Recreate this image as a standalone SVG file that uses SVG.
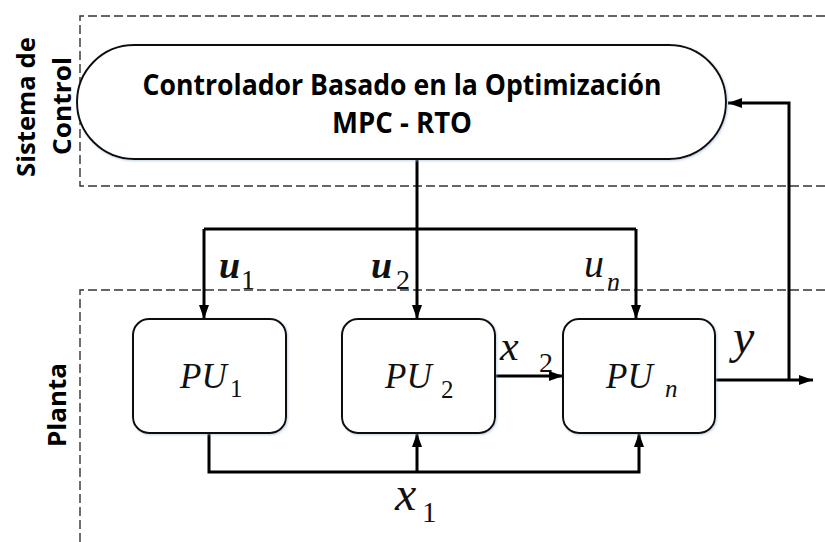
<svg xmlns="http://www.w3.org/2000/svg" width="825" height="542" viewBox="0 0 825 542">
  <defs>
    <marker id="arrow" viewBox="0 0 14 10" refX="14" refY="5" markerWidth="14" markerHeight="10" markerUnits="userSpaceOnUse" orient="auto">
      <path d="M0,0 L14,5 L0,10 Z" fill="#000"/>
    </marker>
    <filter id="glow" x="-10%" y="-10%" width="120%" height="120%">
      <feDropShadow dx="1" dy="1" stdDeviation="1.2" flood-color="#9fb6d6" flood-opacity="0.6"/>
    </filter>
  </defs>
  <style>
    .zone { fill: none; stroke: #333; stroke-width: 1.4; stroke-dasharray: 9 4; }
    .box { fill: #fff; stroke: #111; stroke-width: 2; filter: url(#glow); }
    .wire { fill: none; stroke: #000; stroke-width: 3; }
    .title { font-weight: bold; fill: #000; }
    .math { font-style: italic; fill: #111; }
    .num { fill: #111; }
  </style>

  <rect width="825" height="542" fill="#fff"/>

  <!-- zone borders -->
  <g id="zones">
    <path class="zone" d="M825,16 H80 V186 H825"/>
    <path class="zone" d="M825,290 H80 V542"/>
  </g>

  <!-- zone labels -->
  <g id="zone-labels" font-family="Open Sans, Liberation Sans, sans-serif">
    <text class="title" font-size="25" transform="translate(35,107) rotate(-90)" text-anchor="middle" textLength="140" lengthAdjust="spacingAndGlyphs">Sistema de</text>
    <text class="title" font-size="25" transform="translate(71,106) rotate(-90)" text-anchor="middle" textLength="98" lengthAdjust="spacingAndGlyphs">Control</text>
    <text class="title" font-size="25" transform="translate(66,405) rotate(-90)" text-anchor="middle" textLength="84" lengthAdjust="spacingAndGlyphs">Planta</text>
  </g>

  <!-- connectors -->
  <g id="connectors">
    <!-- manipulated variables -->
    <path class="wire" d="M417,159 V319" marker-end="url(#arrow)"/>
    <path class="wire" d="M204,229 H636"/>
    <path class="wire" d="M204,229 V319" marker-end="url(#arrow)"/>
    <path class="wire" d="M636,229 V319" marker-end="url(#arrow)"/>
    <!-- x1 bus -->
    <path class="wire" d="M209,433 V472 H639 V433" marker-end="url(#arrow)"/>
    <path class="wire" d="M417,472 V433" marker-end="url(#arrow)"/>
    <!-- x2 -->
    <path class="wire" d="M495,376 H563" marker-end="url(#arrow)"/>
    <!-- output y and feedback -->
    <path class="wire" d="M715,380 H813" marker-end="url(#arrow)"/>
    <path class="wire" d="M789,380 V103 H728" marker-end="url(#arrow)"/>
  </g>

  <!-- controller -->
  <g id="controller" font-family="Open Sans, Liberation Sans, sans-serif">
    <rect class="box" x="77" y="45" width="649" height="114" rx="57" ry="57"/>
    <text class="title" font-size="28" x="402" y="95" text-anchor="middle" textLength="519" lengthAdjust="spacingAndGlyphs">Controlador Basado en la Optimización</text>
    <text class="title" font-size="28" x="402" y="133" text-anchor="middle" textLength="140" lengthAdjust="spacingAndGlyphs">MPC - RTO</text>
  </g>

  <!-- process units -->
  <g id="pu1" font-family="Liberation Serif, serif">
    <rect class="box" x="133" y="319" width="153" height="114" rx="16" ry="16"/>
    <text class="math" font-size="35" x="180" y="388">PU</text>
    <text class="num" font-size="25" x="230" y="397">1</text>
  </g>
  <g id="pu2" font-family="Liberation Serif, serif">
    <rect class="box" x="342" y="319" width="153" height="114" rx="16" ry="16"/>
    <text class="math" font-size="35" x="385" y="388">PU</text>
    <text class="num" font-size="25" x="441" y="398">2</text>
  </g>
  <g id="pun" font-family="Liberation Serif, serif">
    <rect class="box" x="563" y="319" width="152" height="114" rx="16" ry="16"/>
    <text class="math" font-size="35" x="606" y="388">PU</text>
    <text class="math" font-size="25" x="665" y="397">n</text>
  </g>

  <!-- signal labels -->
  <g id="labels" font-family="Liberation Serif, serif">
    <text class="math" font-size="38" font-weight="bold" x="219" y="278">u</text>
    <text class="num" font-size="28" x="241" y="289">1</text>
    <text class="math" font-size="38" font-weight="bold" x="371" y="278">u</text>
    <text class="num" font-size="28" x="396" y="289">2</text>
    <text class="math" font-size="40" x="584" y="277">u</text>
    <text class="math" font-size="26" x="607" y="290">n</text>
    <text class="math" font-size="42" x="500" y="360">x</text>
    <text class="num" font-size="28" x="539" y="372">2</text>
    <text class="math" font-size="48" x="733" y="353">y</text>
    <text class="math" font-size="48" x="395" y="510">x</text>
    <text class="num" font-size="29" x="422" y="522">1</text>
  </g>
</svg>
